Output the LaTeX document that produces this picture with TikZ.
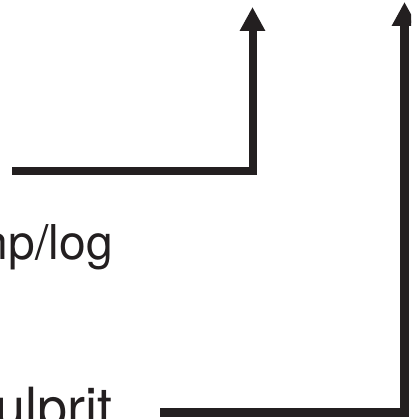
\documentclass[tikz,border=0pt]{standalone}
\usepackage{fontspec}
\setmainfont{TeX Gyre Heros}
\usetikzlibrary{arrows.meta}
\definecolor{ink}{HTML}{231F20}
\tikzset{
  route/.style={draw=ink, line width=8pt, line join=miter, line cap=butt,
    -{Triangle[width=24pt,length=24pt]}},
  label/.style={text=ink, inner sep=0pt}
}
\begin{document}
\begin{tikzpicture}[x=1pt,y=1pt]
  \useasboundingbox (0,0) rectangle (411,419);
  \clip (0,0) rectangle (411,419);
  % labels
  \node[label, anchor=base east, font=\fontsize{48}{56}\selectfont] (logtxt) at (113,159) {np/log};
  \node[label, anchor=base east, font=\fontsize{54}{62}\selectfont] (culptxt) at (113,-8) {ulprit};
  % route points
  \coordinate (r1start) at (12,247.5);
  \coordinate (r1bend) at (252.5,247.5);
  \coordinate (r1end) at (252.5,412);
  \coordinate (r2start) at (160,6.5);
  \coordinate (r2bend) at (404.5,6.5);
  \coordinate (r2end) at (404.5,417);
  % routes
  \draw[route] (r1start) -- (r1bend) -- (r1end);
  \draw[route, line width=9pt] (r2start) -- (r2bend) -- (r2end);
\end{tikzpicture}
\end{document}
